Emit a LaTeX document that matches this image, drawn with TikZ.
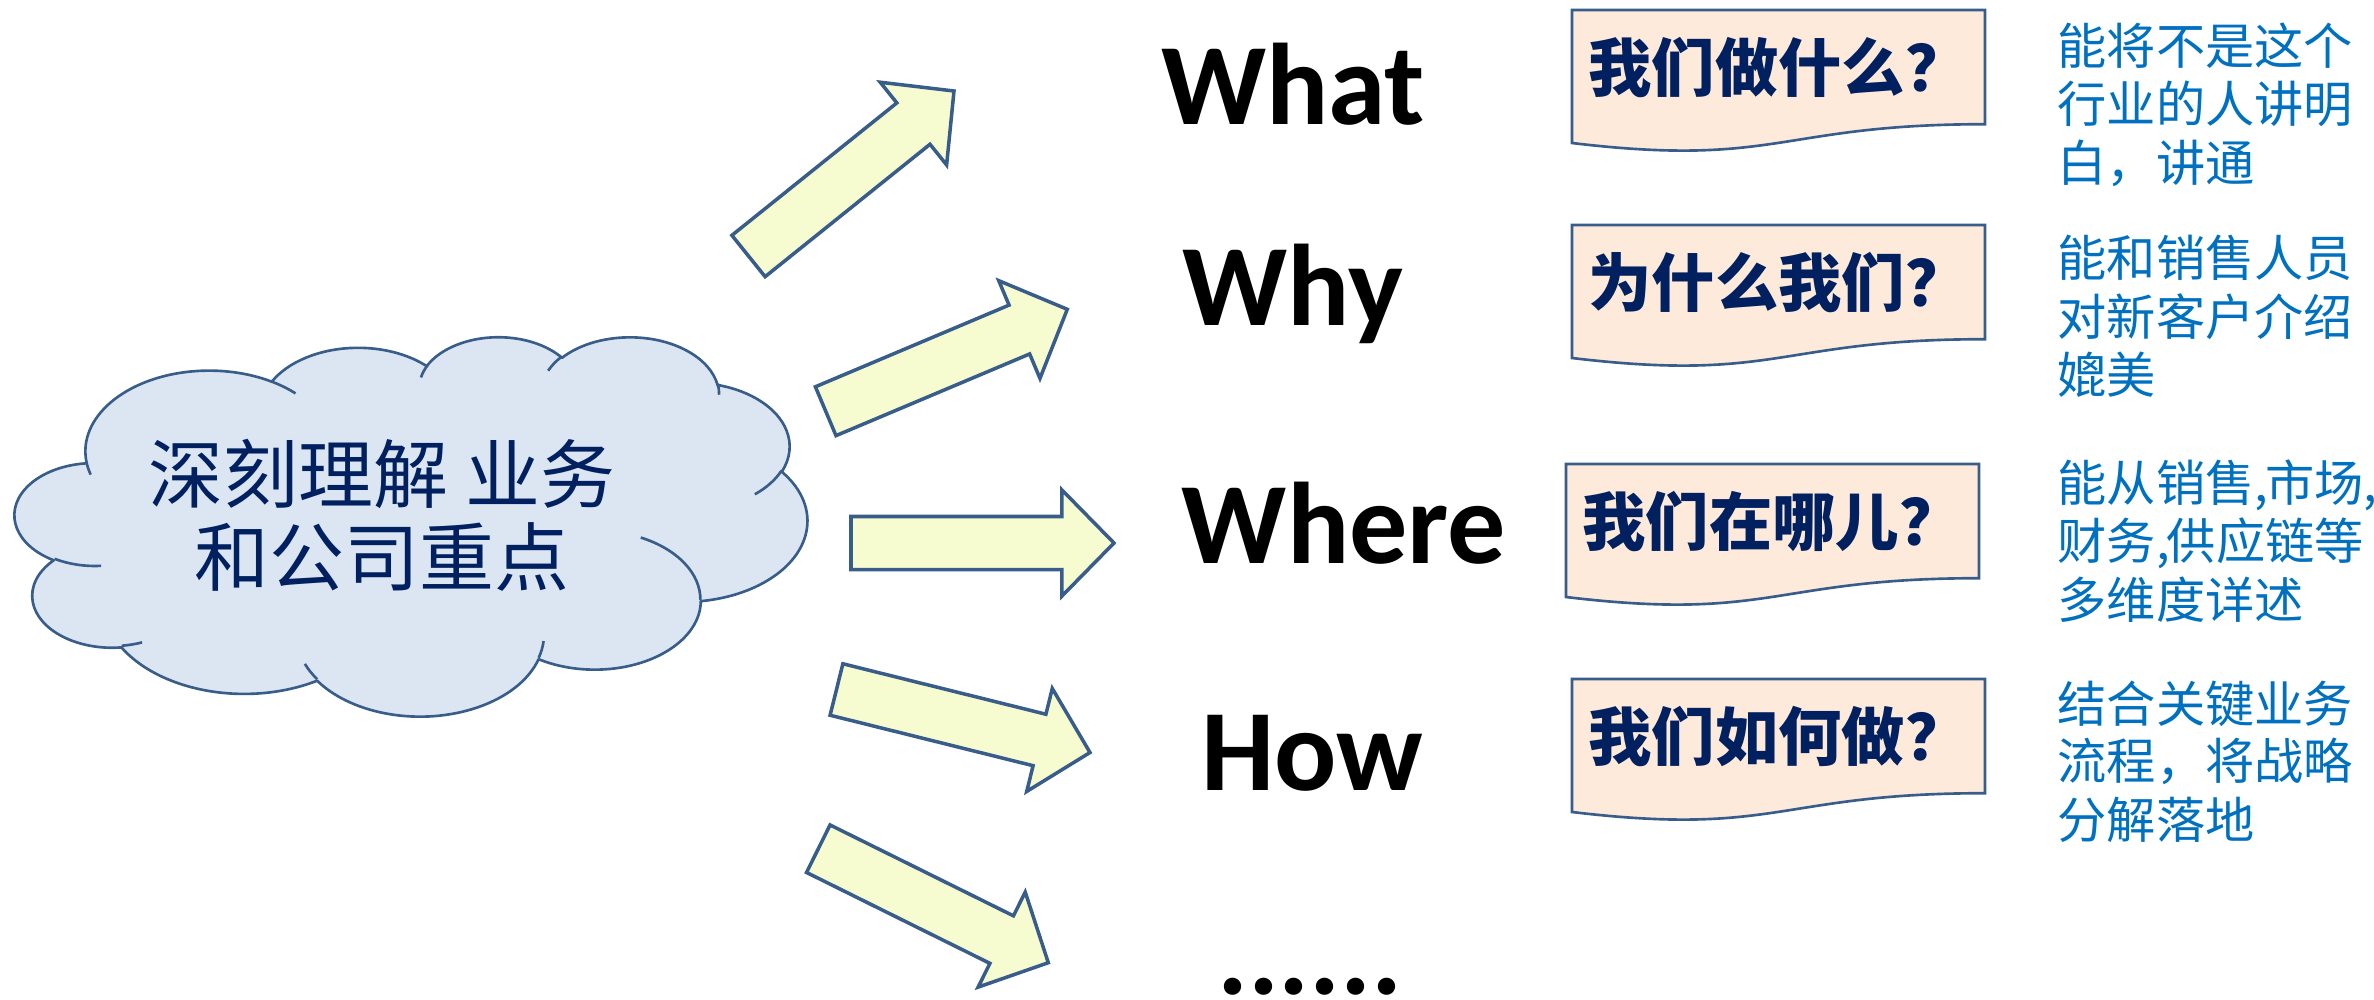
\documentclass[tikz,border=0pt]{standalone}
\usepackage{fontspec}
\setmainfont{Carlito}
\newfontfamily\cjk{Noto Sans CJK SC}
\usetikzlibrary{calc}
\definecolor{cloudfill}{HTML}{DCE6F2}
\definecolor{outline}{HTML}{385D8A}
\definecolor{arrowfill}{HTML}{F7FBD0}
\definecolor{docfill}{HTML}{FDEADA}
\definecolor{navy}{HTML}{002060}
\definecolor{txtblue}{HTML}{0070C0}
\tikzset{
  cloudshape/.style={fill=cloudfill, draw=outline, line width=0.75pt, line join=round},
  cloudinner/.style={draw=outline, line width=0.75pt},
  bigarrow/.style={fill=arrowfill, draw=outline, line width=1pt, line join=miter},
  docstyle/.style={fill=docfill, draw=outline, line width=0.75pt},
  doctext/.style={font=\cjk\bfseries\fontsize{18}{20}\selectfont, text=navy, inner sep=0pt},
  headtext/.style={font=\bfseries\fontsize{33}{36}\selectfont, text=black, inner sep=0pt, anchor=base},
  notetext/.style={font=\cjk\fontsize{14}{16}\selectfont, text=txtblue, inner sep=0pt, anchor=base west},
  cloudtext/.style={font=\cjk\fontsize{21.3}{23.6}\selectfont, text=navy, align=center, inner sep=0pt},
}
% OOXML-style arcTo: wR, hR, start angle, sweep angle (visual angles)
\newcommand\cldarc[4]{%
  \pgfextra{%
    \pgfmathsetmacro\cldA{atan2((#1)*sin(#3),(#2)*cos(#3))}%
    \pgfmathsetmacro\cldB{atan2((#1)*sin((#3)+(#4)),(#2)*cos((#3)+(#4)))}%
    \pgfmathsetmacro\cldD{\cldB-\cldA}%
    \pgfmathsetmacro\cldD{(\cldD<0)?(\cldD+360):(\cldD)}%
  }%
  arc[x radius=#1, y radius=#2, start angle=\cldA, delta angle=\cldD]%
}
% block arrow from tail centre #1 to tip #2
\newcommand\blockarrow[2]{%
  \coordinate (#2n) at ($(#2)!0.52cm!(#1)$);
  \draw[bigarrow] ($(#1)!0.265cm!90:(#2)$) -- ($(#2n)!0.265cm!90:(#2)$)
    -- ($(#2n)!0.53cm!90:(#2)$) -- (#2) -- ($(#2n)!0.53cm!-90:(#2)$)
    -- ($(#2n)!0.265cm!-90:(#2)$) -- ($(#1)!0.265cm!-90:(#2)$) -- cycle;
}
% document (wavy bottom) box: name, x, y, text
\newcommand\docbox[4]{%
  \begin{scope}[shift={(#2,#3)}]
    \draw[docstyle] (0,0) -- (413,0) -- (413,114.2)
      .. controls (206.5,114.2) and (206.5,157.7) .. (0,133) -- cycle;
    \node[doctext] (#1) at (206.5,57) {#4};
  \end{scope}
}
\begin{document}
\begin{tikzpicture}[x=0.01cm, y=-0.01cm]
\useasboundingbox (0,0) rectangle (2374,999);

% ---- cloud ----
\begin{scope}[shift={(15,336)}, x=0.018333cm, y=-0.008773cm]
  \path[cloudshape] (39.00,143.70)
    \cldarc{67.53}{91.90}{-190.4875}{123.7805}
    \cldarc{53.33}{72.67}{-144.1024}{89.9452}
    \cldarc{43.65}{59.45}{-145.8079}{99.7230}
    \cldarc{48.57}{65.95}{-130.9861}{117.2417}
    \cldarc{53.33}{72.73}{-78.7089}{109.0269}
    \cldarc{67.75}{92.20}{-46.2673}{130.2690}
    \cldarc{57.85}{78.67}{0.6250}{114.0333}
    \cldarc{67.52}{92.15}{22.4516}{115.1726}
    \cldarc{77.20}{105.43}{66.2426}{75.7110}
    \cldarc{43.60}{59.18}{-274.9421}{146.7356}
    \cldarc{43.45}{59.45}{-246.8285}{152.5189}
    -- cycle;
  \path[cloudinner]
    (46.93,261.77) \cldarc{43.45}{59.45}{86.7420}{26.4295}
    (69.28,348.99) \cldarc{43.60}{59.18}{73.6105}{11.4475}
    (164.78,390.90) \cldarc{67.52}{92.15}{137.6242}{14.0811}
    (288.27,347.51) \cldarc{67.52}{92.15}{6.4533}{15.9984}
    (341.29,229.54) \cldarc{57.85}{78.67}{-70.2924}{70.9174}
    (417.98,153.54) \cldarc{53.33}{72.73}{30.3180}{27.7515}
    (383.24,54.26) \cldarc{48.57}{65.95}{-13.7443}{14.8589}
    (290.78,39.52) \cldarc{48.57}{65.95}{-149.1815}{18.1954}
    (221.41,47.20) \cldarc{43.65}{59.45}{-163.4943}{17.6864}
    (140.00,51.92) \cldarc{67.53}{91.90}{-66.7070}{12.3194}
    (41.27,157.89) \cldarc{67.53}{91.90}{157.6544}{11.8582};
\end{scope}
\node[cloudtext] (core) at (382,515) {深刻理解 业务\\和公司重点};

% ---- block arrows ----
\coordinate (t1) at (748.5,256);  \coordinate (h1) at (954,91);
\coordinate (t2) at (825.7,411.2); \coordinate (h2) at (1067.3,309.3);
\coordinate (t3) at (851,543);    \coordinate (h3) at (1114,543);
\coordinate (t4) at (836.5,689.5); \coordinate (h4) at (1090,752.5);
\coordinate (t5) at (818.3,848.7); \coordinate (h5) at (1048.3,962.7);
\blockarrow{t1}{h1}
\blockarrow{t2}{h2}
\blockarrow{t3}{h3}
\blockarrow{t4}{h4}
\blockarrow{t5}{h5}

% ---- headings ----
\node[headtext] (what)  at (1293,124) {What};
\node[headtext] (why)   at (1293,325) {Why};
\node[headtext] (where) at (1344,563) {Where};
\node[headtext] (how)   at (1312,790) {How};
\node[headtext] (more)  at (1310,994) {......};

% ---- document boxes ----
\docbox{q1}{1572}{10}{我们做什么？}
\docbox{q2}{1572}{225}{为什么我们？}
\docbox{q3}{1566}{464}{我们在哪儿？}
\docbox{q4}{1572}{679}{我们如何做？}

% ---- blue notes ----
\node[notetext] (n1a) at (2057,64)    {能将不是这个};
\node[notetext] (n1b) at (2057,122.5) {行业的人讲明};
\node[notetext] (n1c) at (2057,181)   {白，讲通};
\node[notetext] (n2a) at (2057,276.5) {能和销售人员};
\node[notetext] (n2b) at (2057,335)   {对新客户介绍};
\node[notetext] (n2c) at (2057,393.5) {媲美};
\node[notetext] (n3a) at (2057,501)   {能从销售,\kern-0.06em 市场,\kern-0.1em};
\node[notetext] (n3b) at (2057,559.5) {财务,\kern-0.06em 供应链等};
\node[notetext] (n3c) at (2057,618)   {多维度详述};
\node[notetext] (n4a) at (2057,722)   {结合关键业务};
\node[notetext] (n4b) at (2057,779.5) {流程，将战略};
\node[notetext] (n4c) at (2057,838)   {分解落地};
\end{tikzpicture}
\end{document}
